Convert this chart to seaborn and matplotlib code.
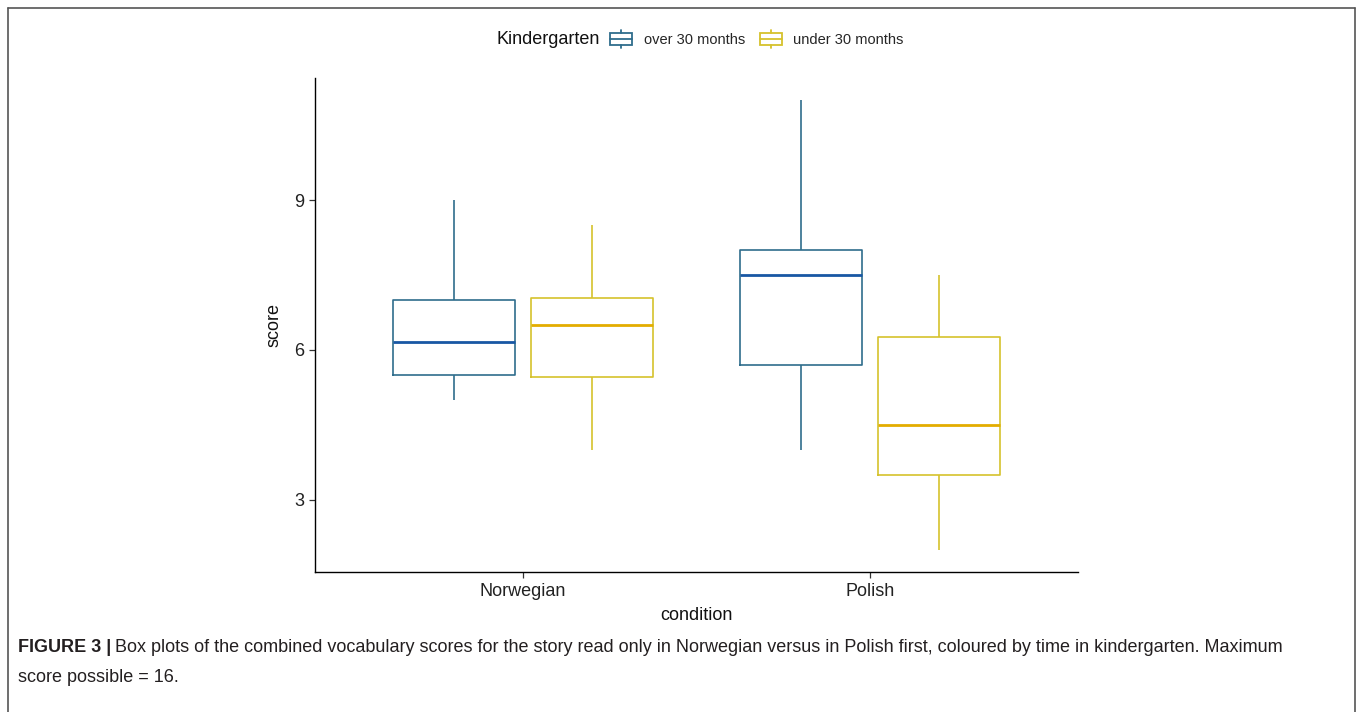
import numpy as np
import pandas as pd
import matplotlib
matplotlib.use("Agg")
import matplotlib.pyplot as plt
from matplotlib.patches import Rectangle, Patch
from matplotlib.lines import Line2D
from matplotlib.legend_handler import HandlerBase
import seaborn as sns

# Five-number summaries of the vocabulary scores
conditions = ["Norwegian", "Polish"]
groups = ["over 30 months", "under 30 months"]

over_min = [5.0, 4.0]
over_q1 = [5.5, 5.7]
over_med = [6.15, 7.5]
over_q3 = [7.0, 8.0]
over_max = [9.0, 11.0]

under_min = [4.0, 2.0]
under_q1 = [5.45, 3.5]
under_med = [6.5, 4.5]
under_q3 = [7.05, 6.25]
under_max = [8.5, 7.5]

y_ticks = [3, 6, 9]

box_colors = ["#2f6d8c", "#d6c22c"]
median_colors = ["#1857a4", "#e3ad00"]

summaries = {
    "over 30 months": (over_min, over_q1, over_med, over_q3, over_max),
    "under 30 months": (under_min, under_q1, under_med, under_q3, under_max),
}
rows = []
for g in groups:
    cols = summaries[g]
    for i, c in enumerate(conditions):
        for arr in cols:
            rows.append({"condition": c, "Kindergarten": g, "score": arr[i]})
df = pd.DataFrame(rows)

sns.set_style("ticks")
plt.rcParams["font.family"] = ["Liberation Sans", "DejaVu Sans"]

W, H = 1357, 712
fig = plt.figure(figsize=(W / 100, H / 100), dpi=100)
fig.patch.set_facecolor("white")
ax = fig.add_axes([315 / W, 1 - 572 / H, (1078 - 315) / W, (572 - 78) / H])

sns.boxplot(
    data=df, x="condition", y="score", hue="Kindergarten",
    order=conditions, hue_order=groups, palette=box_colors,
    fill=False, width=0.8, gap=0.12, whis=(0, 100),
    showcaps=False, linewidth=1.2, legend=False, ax=ax,
)

# darker median lines per group
for cont, mc in zip(ax.containers, median_colors):
    for ln in cont.medians:
        ln.set_color(mc)
        ln.set_linewidth(2.0)

ax.set_xlim(-0.6, 1.6)
ax.set_ylim(1.55, 11.45)
ax.set_yticks(y_ticks)
ax.set_yticklabels([str(t) for t in y_ticks])
for s in ["top", "right"]:
    ax.spines[s].set_visible(False)
for s in ["left", "bottom"]:
    ax.spines[s].set_color("black")
    ax.spines[s].set_linewidth(1.0)
ax.tick_params(axis="both", direction="out", length=4, width=0.9,
               color="#333333", labelsize=13, labelcolor="#222222", pad=4)
ax.set_xlabel("condition", fontsize=13, color="#111111", labelpad=5)
ax.set_ylabel("score", fontsize=13, color="#111111", labelpad=8)


class BoxKeyHandler(HandlerBase):
    def create_artists(self, legend, orig_handle, xdescent, ydescent,
                       width, height, fontsize, trans):
        col = orig_handle.get_edgecolor()
        x0, y0 = -xdescent, -ydescent
        xc = x0 + width / 2
        box = Rectangle((x0, y0), width, height, fill=False,
                        edgecolor=col, linewidth=1.3, transform=trans)
        mid = Line2D([x0, x0 + width], [y0 + height / 2] * 2,
                     color=col, linewidth=1.3, transform=trans)
        lo = Line2D([xc, xc], [y0 - 0.3 * height, y0],
                    color=col, linewidth=1.3, transform=trans)
        hi = Line2D([xc, xc], [y0 + height, y0 + 1.3 * height],
                    color=col, linewidth=1.3, transform=trans)
        return [box, mid, lo, hi]


handles = [Patch(edgecolor=c, facecolor="none") for c in box_colors]
fig.text(497 / W, 1 - 40 / H, "Kindergarten", fontsize=13,
         ha="left", va="center", color="#111111")
leg = fig.legend(
    handles, groups, loc="center left",
    bbox_to_anchor=(606 / W, 1 - 40 / H), ncol=2, frameon=False,
    handler_map={Patch: BoxKeyHandler()},
    prop={"size": 10.5},
    handlelength=1.5, handleheight=0.8, handletextpad=0.8,
    columnspacing=1.0, borderaxespad=0, borderpad=0.3,
)

# caption
renderer = fig.canvas.get_renderer()
t_bold = fig.text(18 / W, 1 - 647 / H, "FIGURE 3 |", fontsize=13,
                  fontweight="bold", ha="left", va="center", color="#231f20")
bb = t_bold.get_window_extent(renderer=renderer)
fig.text((bb.x1 + 4) / W, 1 - 647 / H,
         "Box plots of the combined vocabulary scores for the story read only in "
         "Norwegian versus in Polish first, coloured by time in kindergarten. Maximum",
         fontsize=13, ha="left", va="center", color="#231f20")
fig.text(18 / W, 1 - 677 / H, "score possible = 16.", fontsize=13,
         ha="left", va="center", color="#231f20")

# frame around the figure panel
frame_kw = dict(color="#555555", linewidth=1.2, transform=fig.transFigure)
fig.add_artist(Line2D([7.5 / W, 7.5 / W], [0, 1 - 7.5 / H], **frame_kw))
fig.add_artist(Line2D([7.5 / W, 1355 / W], [1 - 7.5 / H, 1 - 7.5 / H], **frame_kw))
fig.add_artist(Line2D([1355 / W, 1355 / W], [0, 1 - 7.5 / H], **frame_kw))

fig.savefig("out.png", dpi=100, facecolor="white")
